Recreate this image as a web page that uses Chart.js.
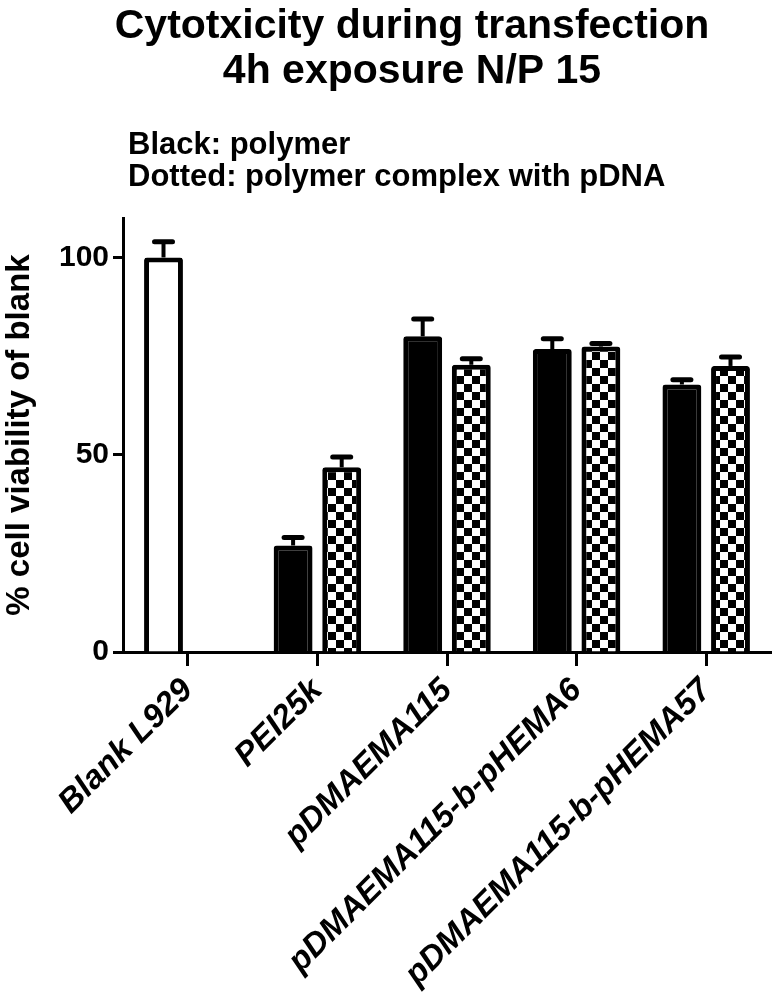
<!DOCTYPE html>
<html>
<head>
<meta charset="utf-8">
<script src="https://cdn.jsdelivr.net/npm/chart.js@4.4.1/dist/chart.umd.min.js"></script>
<style>
  html, body { margin: 0; padding: 0; background: #fff; }
  #wrap { width: 781px; height: 1000px; }
</style>
</head>
<body>
<div id="wrap"><canvas id="chart" width="781" height="1000"></canvas></div>
<script>
// chart data
const categories = ['Blank L929', 'PEI25k', 'pDMAEMA115', 'pDMAEMA115-b-pHEMA6', 'pDMAEMA115-b-pHEMA57'];
const polymerValues = [100, 27, 80, 76.8, 67.8];
const polymerErrors = [4, 2, 4.4, 2.6, 1.2];
const complexValues = [null, 46.8, 72.8, 77.4, 72.5];
const complexErrors = [null, 2.6, 1.5, 0.8, 2.3];
const yTickValues = [0, 50, 100];

const titleLines = ['Cytotxicity during transfection', '4h exposure N/P 15'];
const noteLines = ['Black: polymer', 'Dotted: polymer complex with pDNA'];
const yAxisTitle = '% cell viability of blank';

const FONT = '"Liberation Sans", Arial, Helvetica, sans-serif';

// checkerboard fill for the "dotted" bars
function makeChecker() {
  const c = document.createElement('canvas');
  c.width = 16;
  c.height = 16;
  const g = c.getContext('2d');
  g.fillStyle = '#fff';
  g.fillRect(0, 0, 16, 16);
  g.fillStyle = '#000';
  g.fillRect(0, 0, 8, 8);
  g.fillRect(8, 8, 8, 8);
  return g.createPattern(c, 'repeat');
}

// titles and the two note lines at the top
const headerText = {
  id: 'headerText',
  afterDraw(chart) {
    const ctx = chart.ctx;
    ctx.save();
    ctx.fillStyle = '#000';
    ctx.textBaseline = 'alphabetic';
    ctx.textAlign = 'center';
    ctx.font = 'bold 41px ' + FONT;
    titleLines.forEach((t, i) => ctx.fillText(t, 412, 38 + i * 45));
    ctx.textAlign = 'left';
    ctx.font = 'bold 31px ' + FONT;
    noteLines.forEach((t, i) => ctx.fillText(t, 128, 154 + i * 32));
    ctx.restore();
  }
};

// upward error bars with a flat cap
const errorBars = {
  id: 'errorBars',
  afterDatasetsDraw(chart) {
    const ctx = chart.ctx;
    const yScale = chart.scales.y;
    const errs = [polymerErrors, complexErrors];
    ctx.save();
    ctx.strokeStyle = '#000';
    chart.data.datasets.forEach((ds, di) => {
      const meta = chart.getDatasetMeta(di);
      meta.data.forEach((bar, i) => {
        const v = ds.data[i];
        const e = errs[di][i];
        if (v == null || e == null) return;
        const yTop = yScale.getPixelForValue(v + e);
        ctx.lineCap = 'butt';
        ctx.lineWidth = 4;
        ctx.beginPath();
        ctx.moveTo(bar.x, bar.y);
        ctx.lineTo(bar.x, yTop);
        ctx.stroke();
        ctx.lineCap = 'round';
        ctx.lineWidth = 5;
        ctx.beginPath();
        ctx.moveTo(bar.x - 9, yTop);
        ctx.lineTo(bar.x + 9, yTop);
        ctx.stroke();
      });
    });
    ctx.restore();
  }
};

const checker = makeChecker();

new Chart(document.getElementById('chart'), {
  type: 'bar',
  data: {
    labels: categories,
    datasets: [
      {
        label: 'polymer',
        data: polymerValues,
        backgroundColor: polymerValues.map((v, i) => i === 0 ? '#fff' : '#000'),
        borderColor: '#000',
        borderWidth: 5,
        borderRadius: 3,
        borderSkipped: 'start'
      },
      {
        label: 'polymer complex with pDNA',
        data: complexValues,
        backgroundColor: checker,
        borderColor: '#000',
        borderWidth: 5,
        borderRadius: 3,
        borderSkipped: 'start'
      }
    ]
  },
  options: {
    responsive: false,
    animation: false,
    events: [],
    layout: { padding: { top: 218, right: 10, left: 0, bottom: 0 } },
    datasets: { bar: { categoryPercentage: 0.75, barPercentage: 0.8 } },
    plugins: {
      legend: { display: false },
      tooltip: { enabled: false },
      title: { display: false }
    },
    scales: {
      x: {
        grid: {
          offset: false,
          drawOnChartArea: false,
          drawTicks: true,
          tickLength: 14,
          tickWidth: 3,
          tickColor: '#000'
        },
        border: { display: true, color: '#000', width: 3 },
        ticks: {
          color: '#000',
          autoSkip: false,
          maxRotation: 45,
          minRotation: 45,
          padding: 5,
          font: { family: FONT, size: 33, weight: 'bold', style: 'italic' }
        },
        afterFit(scale) { scale.height = 348; }
      },
      y: {
        min: 0,
        max: 110,
        grid: {
          drawOnChartArea: false,
          drawTicks: true,
          tickLength: 10,
          tickWidth: 3,
          tickColor: '#000'
        },
        border: { display: true, color: '#000', width: 3 },
        ticks: {
          color: '#000',
          padding: 4,
          font: { family: FONT, size: 30, weight: 'bold' }
        },
        afterBuildTicks(scale) {
          scale.ticks = yTickValues.map(v => ({ value: v }));
        },
        title: {
          display: true,
          text: yAxisTitle,
          color: '#000',
          padding: { top: 0, bottom: 4 },
          font: { family: FONT, size: 33, weight: 'bold' }
        },
        afterFit(scale) { scale.width = 123; }
      }
    }
  },
  plugins: [headerText, errorBars]
});
</script>
</body>
</html>
